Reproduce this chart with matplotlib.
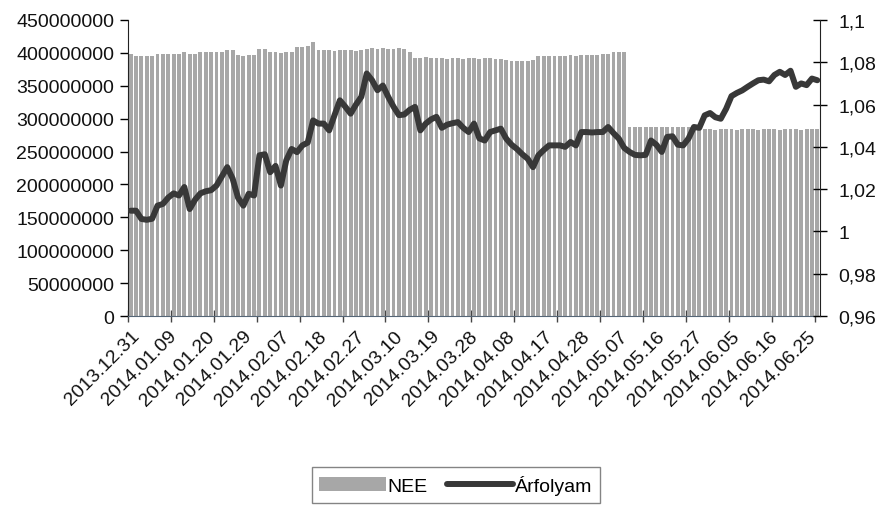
import matplotlib
matplotlib.use("Agg")
import matplotlib.pyplot as plt
import numpy as np
import pandas as pd

# Categories: trading (week) days
dates = pd.bdate_range("2013-12-31", "2014-06-27")
date_labels = [d.strftime("%Y.%m.%d") for d in dates]

# NEE (bars, left axis)
nee = [
    399, 395, 396, 395, 396,
    398, 399, 398, 399, 398,
    401.6, 398, 398,
    401, 402, 401.6, 402, 401,
    405, 405,
    397, 396, 397, 396.6,
    406.6, 406,
    400.6, 401, 400, 400.6, 401,
    409, 409, 410,
    417,
    404, 405, 404, 403, 404, 405, 404, 403, 404,
    406.6, 407, 406, 407, 406.6, 406, 407, 406,
    402,
    392.5, 392, 393, 392.5, 392,
    391.5, 391, 392, 391.5, 391, 392, 391.5, 391, 392, 391.5, 391, 390, 389, 388, 387, 387, 388, 389,
    395.5, 396, 395.5, 396, 395.5, 396, 396.5, 396, 397, 396.5, 397, 397, 398, 399,
    401.6, 402, 401,
    287, 287.5, 287, 287.5, 287, 288, 287, 287.5, 287, 287, 288, 287.5, 287, 286, 285,
    283.6, 283, 283.6, 284, 283.6, 283, 283.6, 284, 283.6, 283, 283.6, 284, 283.6, 283,
    283.6, 284, 283.6, 283, 283.6, 284, 283.6,
]
nee = np.array(nee) * 1e6

# Árfolyam (line, right axis)
arfolyam = [
    1.0098, 1.0098, 1.0059, 1.0055, 1.0060, 1.0122, 1.0130, 1.0160, 1.0180, 1.0170,
    1.0210, 1.0106, 1.0150, 1.0180, 1.0190, 1.0195, 1.0217, 1.0260, 1.0304, 1.0250,
    1.0160, 1.0122, 1.0178, 1.0170, 1.0360, 1.0365, 1.0280, 1.0310, 1.0217, 1.0336,
    1.0390, 1.0375, 1.0407, 1.0420, 1.0525, 1.0510, 1.0510, 1.0478, 1.0550, 1.0620,
    1.0590, 1.0557, 1.0600, 1.0637, 1.0747, 1.0715, 1.0668, 1.0690, 1.0637, 1.0590,
    1.0550, 1.0553, 1.0575, 1.0589, 1.0478, 1.0510, 1.0530, 1.0542, 1.0490, 1.0505,
    1.0512, 1.0517, 1.0490, 1.0470, 1.0510, 1.0440, 1.0430, 1.0470, 1.0478, 1.0486,
    1.0439, 1.0410, 1.0390, 1.0365, 1.0344, 1.0304, 1.0360, 1.0385, 1.0407, 1.0407,
    1.0407, 1.0400, 1.0423, 1.0407, 1.0470, 1.0470, 1.0468, 1.0470, 1.0470, 1.0494,
    1.0465, 1.0439, 1.0395, 1.0376, 1.0362, 1.0360, 1.0362, 1.0430, 1.0410, 1.0376,
    1.0447, 1.0450, 1.0410, 1.0407, 1.0440, 1.0494, 1.0490, 1.0549, 1.0560, 1.0540,
    1.0533, 1.0580, 1.0640, 1.0655, 1.0667, 1.0684, 1.0700, 1.0715, 1.0718, 1.0710,
    1.0740, 1.0755, 1.0740, 1.0760, 1.0684, 1.0700, 1.0692, 1.0723, 1.0715,
]

left_ticks = [0, 50000000, 100000000, 150000000, 200000000, 250000000,
              300000000, 350000000, 400000000, 450000000]
right_ticks = [0.96, 0.98, 1.0, 1.02, 1.04, 1.06, 1.08, 1.1]
right_tick_labels = ["0,96", "0,98", "1", "1,02", "1,04", "1,06", "1,08", "1,1"]

plt.rcParams["font.family"] = ["Liberation Sans", "DejaVu Sans"]
FS = 14

fig = plt.figure(figsize=(8.8, 5.1), dpi=100)
ax = fig.add_axes([128 / 880, 1 - 317 / 510, (820 - 128) / 880, (317 - 21) / 510])
x = np.arange(len(dates))
bars = ax.bar(x, nee, width=0.72, color="#a7a7a7", edgecolor="none", label="NEE", zorder=2)
ax.set_xlim(-0.5, len(dates) - 0.5)
ax.set_ylim(0, 450000000)
ax.set_yticks(left_ticks)
ax.set_yticklabels([str(v) for v in left_ticks], fontsize=FS, color="#111111")
ax.tick_params(axis="y", direction="out", length=6, width=1, pad=4)

# x axis: labels every 7 categories, tick marks every 8 category boundaries
lab_idx = list(range(0, len(dates), 7))
ax.set_xticks(lab_idx)
ax.set_xticklabels([date_labels[i] for i in lab_idx], rotation=45, ha="right",
                   rotation_mode="anchor", fontsize=FS, color="#111111")
ax.tick_params(axis="x", which="major", length=0, pad=8)
ax.set_xticks(np.arange(-0.5, len(dates), 8), minor=True)
ax.tick_params(axis="x", which="minor", direction="inout", length=9, width=1, color="#444444")

ax.spines["top"].set_visible(False)
ax.spines["left"].set_color("#222222")
ax.spines["bottom"].set_color("#556677")
ax.spines["right"].set_visible(False)

ax2 = ax.twinx()
line, = ax2.plot(x, arfolyam, color="#383838", linewidth=4.3, solid_joinstyle="round",
                 solid_capstyle="round", label="Árfolyam", zorder=3)
ax2.set_ylim(0.96, 1.1)
ax2.set_yticks(right_ticks)
ax2.set_yticklabels(right_tick_labels, fontsize=FS, color="#111111")
ax2.tick_params(axis="y", direction="inout", length=10, width=1, pad=8)
ax2.spines["top"].set_visible(False)
ax2.spines["left"].set_visible(False)
ax2.spines["bottom"].set_visible(False)
ax2.spines["right"].set_color("#222222")

leg = fig.legend(handles=[bars, line], labels=["NEE", "Árfolyam"], loc="center",
                 bbox_to_anchor=(456 / 880, 1 - 486 / 510), ncol=2, fontsize=FS,
                 frameon=True, fancybox=False, edgecolor="#666666", handlelength=3.4,
                 handletextpad=0.1, columnspacing=1.0, borderpad=0.4)
leg.get_frame().set_linewidth(1.0)

fig.savefig("out.png", dpi=100)
